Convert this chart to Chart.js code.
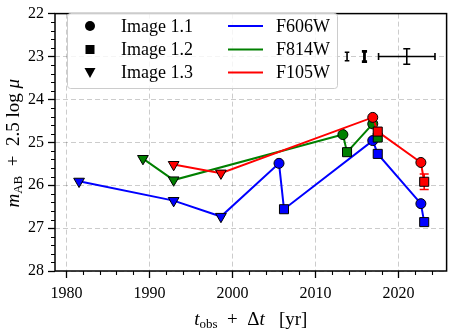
<!DOCTYPE html>
<html>
<head>
<meta charset="utf-8">
<script src="https://cdn.jsdelivr.net/npm/chart.js@4.4.1/dist/chart.umd.min.js"></script>
<style>
html, body { margin: 0; padding: 0; background: #fff; }
</style>
</head>
<body>
<div style="width:454px;height:330px"><canvas id="grafico" width="454" height="330"></canvas></div>
<script>
// ejes
var anioTicks = [1980, 1990, 2000, 2010, 2020]
var magTicks = [22, 23, 24, 25, 26, 27, 28]

// leyenda
var imagenes = ['Image 1.1', 'Image 1.2', 'Image 1.3']
var filtros = ['F606W', 'F814W', 'F105W']
var colores = ['#0000ff', '#008000', '#ff0000']

// F606W  (img: 1 = circulo, 2 = cuadrado, 3 = triangulo)
var f606Anio = [1981.5, 1992.9, 1998.6, 2005.6, 2006.2, 2016.9, 2017.5, 2022.7, 2023.1]
var f606Mag = [25.91, 26.36, 26.73, 25.49, 26.56, 24.96, 25.27, 26.43, 26.86]
var f606Img = [3, 3, 3, 1, 2, 1, 2, 1, 2]
var f606Err = [0, 0, 0, 0, 0, 0, 0, 0, 0]

// F814W
var f814Anio = [1989.2, 1992.9, 2013.3, 2013.8, 2016.9, 2017.5]
var f814Mag = [25.38, 25.88, 24.82, 25.23, 24.57, 24.89]
var f814Img = [3, 3, 1, 2, 1, 2]
var f814Err = [0, 0, 0, 0, 0, 0]

// F105W
var f105Anio = [1992.9, 1998.6, 2016.9, 2017.5, 2022.7, 2023.1]
var f105Mag = [25.52, 25.72, 24.42, 24.75, 25.47, 25.92]
var f105Img = [3, 3, 1, 2, 1, 2]
var f105Err = [0, 0, 0, 0, 0, 0.18]

// barras de error de referencia (arriba a la derecha)
var refAnio = [2013.8, 2015.9, 2021.0]
var refMag = [23, 23, 23]
var refErrY = [0.1, 0.12, 0.18]
var refErrX = [0, 0, 3.4]

function estilo(img) {
    return img == 1 ? 'circle' : (img == 2 ? 'rect' : 'triangle')
}
function radio(img) {
    return img == 1 ? 5 : (img == 2 ? 6.4 : 6.2)
}

function serie(label, anios, mags, imgs, errs, color, orden) {
    var data = []
    anios.forEach((a, i) => {
        data.push({x: a, y: mags[i]})
    })
    return {
        label: label,
        data: data,
        showLine: true,
        borderColor: color,
        borderWidth: 2,
        backgroundColor: color,
        pointBackgroundColor: color,
        pointBorderColor: '#000',
        pointBorderWidth: 1,
        pointStyle: imgs.map(estilo),
        pointRadius: imgs.map(radio),
        pointRotation: imgs.map(v => v == 3 ? 180 : 0),
        errY: errs,
        errColor: color,
        capsize: [4.5],
        order: orden
    }
}

var refSerie = {
    label: 'ref',
    data: refAnio.map((a, i) => ({x: a, y: refMag[i]})),
    showLine: false,
    pointRadius: 0,
    errY: refErrY,
    errX: refErrX,
    errColor: '#000',
    capsize: [2.3, 2.6, 3.5],
    errWidth: [1.6, 2.8, 1.6],
    order: 0
}

var barrasError = {
    id: 'barrasError',
    beforeDatasetsDraw(chart) {
        var ctx = chart.ctx
        var sx = chart.scales.x, sy = chart.scales.y
        chart.data.datasets.forEach(ds => {
            if (!ds.errY) return
            ctx.save()
            ctx.strokeStyle = ds.errColor
            ds.data.forEach((p, i) => {
                var ey = ds.errY[i] || 0
                var ex = ds.errX ? ds.errX[i] : 0
                var cap = ds.capsize[i] != null ? ds.capsize[i] : ds.capsize[0]
                ctx.lineWidth = ds.errWidth ? ds.errWidth[i] : 1.6
                var px = sx.getPixelForValue(p.x), py = sy.getPixelForValue(p.y)
                ctx.beginPath()
                if (ey > 0) {
                    var y1 = sy.getPixelForValue(p.y - ey), y2 = sy.getPixelForValue(p.y + ey)
                    ctx.moveTo(px, y1); ctx.lineTo(px, y2)
                    ctx.moveTo(px - cap, y1); ctx.lineTo(px + cap, y1)
                    ctx.moveTo(px - cap, y2); ctx.lineTo(px + cap, y2)
                }
                if (ex > 0) {
                    var x1 = sx.getPixelForValue(p.x - ex), x2 = sx.getPixelForValue(p.x + ex)
                    ctx.moveTo(x1, py); ctx.lineTo(x2, py)
                    ctx.moveTo(x1, py - 3.5); ctx.lineTo(x1, py + 3.5)
                    ctx.moveTo(x2, py - 3.5); ctx.lineTo(x2, py + 3.5)
                }
                ctx.stroke()
            })
            ctx.restore()
        })
    }
}

// texto con subindices
function textoMixto(ctx, partes, cx, cy) {
    var total = 0
    partes.forEach(p => {
        ctx.font = p[1]
        total += ctx.measureText(p[0]).width
    })
    var x = cx - total / 2
    partes.forEach(p => {
        ctx.font = p[1]
        ctx.fillText(p[0], x, cy + (p[2] || 0))
        x += ctx.measureText(p[0]).width
    })
}

var SERIF = '"Liberation Serif", "DejaVu Serif", serif'

var marco = {
    id: 'marco',
    afterDraw(chart) {
        var ctx = chart.ctx, a = chart.chartArea
        var sx = chart.scales.x, sy = chart.scales.y
        ctx.save()
        ctx.setLineDash([])
        ctx.strokeStyle = '#000'

        // ticks menores
        ctx.lineWidth = 1.1
        ctx.beginPath()
        for (var v = 1978; v <= 2026; v += 2) {
            if (v % 10 == 0) continue
            var px = sx.getPixelForValue(v)
            if (px < a.left || px > a.right) continue
            ctx.moveTo(Math.round(px) + 0.5, a.bottom); ctx.lineTo(Math.round(px) + 0.5, a.bottom + 4)
        }
        for (var m = 22; m <= 28.001; m += 0.2) {
            if (Math.abs(m - Math.round(m)) < 0.01) continue
            var py = sy.getPixelForValue(m)
            ctx.moveTo(a.left, Math.round(py) + 0.5); ctx.lineTo(a.left - 4, Math.round(py) + 0.5)
        }
        ctx.stroke()

        // marco
        ctx.lineWidth = 1.5
        ctx.strokeRect(a.left, a.top, a.right - a.left, a.bottom - a.top)

        // leyenda
        var lx = 67.5, ly = 13.5, lw = 270, lh = 75, r = 3
        ctx.beginPath()
        ctx.moveTo(lx + r, ly)
        ctx.arcTo(lx + lw, ly, lx + lw, ly + lh, r)
        ctx.arcTo(lx + lw, ly + lh, lx, ly + lh, r)
        ctx.arcTo(lx, ly + lh, lx, ly, r)
        ctx.arcTo(lx, ly, lx + lw, ly, r)
        ctx.closePath()
        ctx.fillStyle = 'rgba(255,255,255,0.8)'
        ctx.fill()
        ctx.strokeStyle = '#cccccc'
        ctx.lineWidth = 1
        ctx.stroke()

        var filas = [26, 49.5, 72.5]
        ctx.font = '18px ' + SERIF
        ctx.textBaseline = 'middle'
        ctx.textAlign = 'left'
        imagenes.forEach((txt, i) => {
            var y = filas[i]
            ctx.fillStyle = '#000'
            ctx.beginPath()
            if (i == 0) {
                ctx.arc(90, y, 5, 0, Math.PI * 2)
            } else if (i == 1) {
                ctx.rect(85.5, y - 4.5, 9, 9)
            } else {
                ctx.moveTo(84.5, y - 4.5); ctx.lineTo(95.5, y - 4.5); ctx.lineTo(90, y + 5.5)
                ctx.closePath()
            }
            ctx.fill()
            ctx.fillText(txt, 121, y + 1)
        })
        filtros.forEach((txt, i) => {
            var y = filas[i]
            ctx.strokeStyle = colores[i]
            ctx.lineWidth = 2
            ctx.beginPath()
            ctx.moveTo(228, y); ctx.lineTo(263, y)
            ctx.stroke()
            ctx.fillStyle = '#000'
            ctx.fillText(txt, 276, y + 1)
        })

        // titulos de ejes
        ctx.fillStyle = '#000'
        ctx.textBaseline = 'alphabetic'
        textoMixto(ctx, [
            ['t', 'italic 19px ' + SERIF],
            ['obs', '13px ' + SERIF, 3],
            ['  +  \u0394', '19px ' + SERIF],
            ['t', 'italic 19px ' + SERIF],
            ['   [yr]', '19px ' + SERIF]
        ], (a.left + a.right) / 2, 325)

        ctx.translate(19, (a.top + a.bottom) / 2 + 1)
        ctx.rotate(-Math.PI / 2)
        textoMixto(ctx, [
            ['m', 'italic 19px ' + SERIF],
            ['AB', '13px ' + SERIF, 3],
            ['  +  2.5 log ', '19px ' + SERIF],
            ['\u03bc', 'italic 19px ' + SERIF]
        ], 0, 0)
        ctx.restore()
    }
}

var ctx = document.getElementById('grafico').getContext('2d')
var grafico = new Chart(ctx, {
    type: 'scatter',
    data: {
        datasets: [
            serie(filtros[0], f606Anio, f606Mag, f606Img, f606Err, colores[0], 3),
            serie(filtros[1], f814Anio, f814Mag, f814Img, f814Err, colores[1], 2),
            serie(filtros[2], f105Anio, f105Mag, f105Img, f105Err, colores[2], 1),
            refSerie
        ]
    },
    options: {
        responsive: false,
        animation: false,
        layout: { padding: { top: 5, right: 2, left: 0, bottom: 0 } },
        plugins: {
            legend: { display: false },
            tooltip: { enabled: false }
        },
        scales: {
            x: {
                type: 'linear',
                min: 1978.6,
                max: 2025.8,
                afterBuildTicks: s => { s.ticks = anioTicks.map(v => ({value: v})) },
                afterFit: s => { s.height = 59 },
                ticks: {
                    color: '#000',
                    font: { family: SERIF, size: 16 },
                    padding: 6,
                    maxRotation: 0,
                    callback: v => v
                },
                grid: {
                    color: 'rgba(0,0,0,0.2)',
                    lineWidth: 1,
                    tickColor: '#000',
                    tickLength: 7,
                    tickWidth: 1.3
                },
                border: { display: false, dash: [5, 3] }
            },
            y: {
                type: 'linear',
                reverse: true,
                min: 22,
                max: 28,
                afterBuildTicks: s => { s.ticks = magTicks.map(v => ({value: v})) },
                afterFit: s => { s.width = 55 },
                ticks: {
                    color: '#000',
                    font: { family: SERIF, size: 16 },
                    padding: 4,
                    callback: v => v
                },
                grid: {
                    color: 'rgba(0,0,0,0.2)',
                    lineWidth: 1,
                    tickColor: '#000',
                    tickLength: 7,
                    tickWidth: 1.3
                },
                border: { display: false, dash: [5, 3] }
            }
        }
    },
    plugins: [barrasError, marco]
})
</script>
</body>
</html>
